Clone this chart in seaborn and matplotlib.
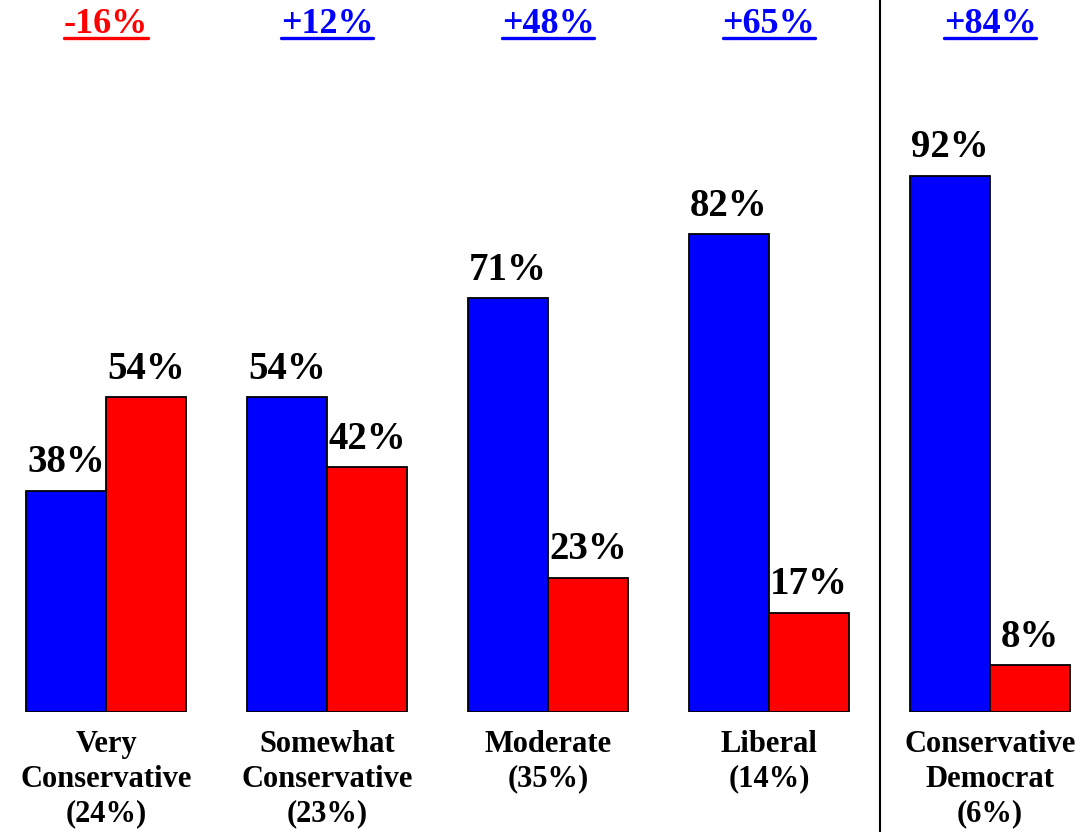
import pandas as pd
import seaborn as sns
import matplotlib.pyplot as plt
from matplotlib.lines import Line2D

categories = ["Very\nConservative\n(24%)", "Somewhat\nConservative\n(23%)",
              "Moderate\n(35%)", "Liberal\n(14%)", "Conservative\nDemocrat\n(6%)"]
blue_vals = [38, 54, 71, 82, 92]
red_vals = [54, 42, 23, 17, 8]
margins = ["-16%", "+12%", "+48%", "+65%", "+84%"]
margin_colors = ["#ff0000", "#0000ff", "#0000ff", "#0000ff", "#0000ff"]

df = pd.DataFrame({
    "group": categories * 2,
    "side": ["Blue"] * len(categories) + ["Red"] * len(categories),
    "value": blue_vals + red_vals,
})

sns.set_style("white")
plt.rcParams["font.family"] = ["Liberation Serif", "DejaVu Serif"]
plt.rcParams["font.weight"] = "bold"
plt.rcParams["text.color"] = "black"
plt.rcParams["xtick.color"] = "black"

W, H = 1083, 832
fig = plt.figure(figsize=(W / 100, H / 100), dpi=100)
ax = fig.add_axes([0, 120 / H, 1, (H - 120) / H])

sns.barplot(data=df, x="group", y="value", hue="side", order=categories,
            hue_order=["Blue", "Red"], palette=["#0000ff", "#ff0000"],
            saturation=1, width=0.724, edgecolor="black", linewidth=1.3,
            legend=False, ax=ax)

for cont in ax.containers:
    ax.bar_label(cont, fmt="%d%%", padding=7, fontsize=28, fontweight="bold",
                 color="black")

ax.set_xlim(-106 / 221, (W - 106) / 221)
ax.set_ylim(0, 712 / 5.826)
ax.set_xlabel("")
ax.set_ylabel("")
ax.set_yticks([])
for s in ax.spines.values():
    s.set_visible(False)
ax.tick_params(axis="x", length=0, pad=13)
for lab in ax.get_xticklabels():
    lab.set_fontsize(22)
    lab.set_fontweight("bold")
    lab.set_linespacing(1.25)
    lab.set_verticalalignment("top")
    lab.set_color("black")

# divider between ideology groups and conservative democrats
ax.axvline(3.5, ymin=-120 / 712, ymax=1, color="black", lw=1.5, clip_on=False)

tops = []
for i, (m, c) in enumerate(zip(margins, margin_colors)):
    t = ax.text(i, 118.0, m, ha="center", va="center", color=c,
                fontsize=26, fontweight="bold")
    tops.append(t)

fig.canvas.draw()
r = fig.canvas.get_renderer()
for t in tops:
    bb = t.get_window_extent(renderer=r)
    y = bb.y0 + 3
    fig.add_artist(Line2D([bb.x0 / W, bb.x1 / W], [y / H, y / H],
                          transform=fig.transFigure, color=t.get_color(), lw=2.4))

fig.savefig("out.png", dpi=100)
